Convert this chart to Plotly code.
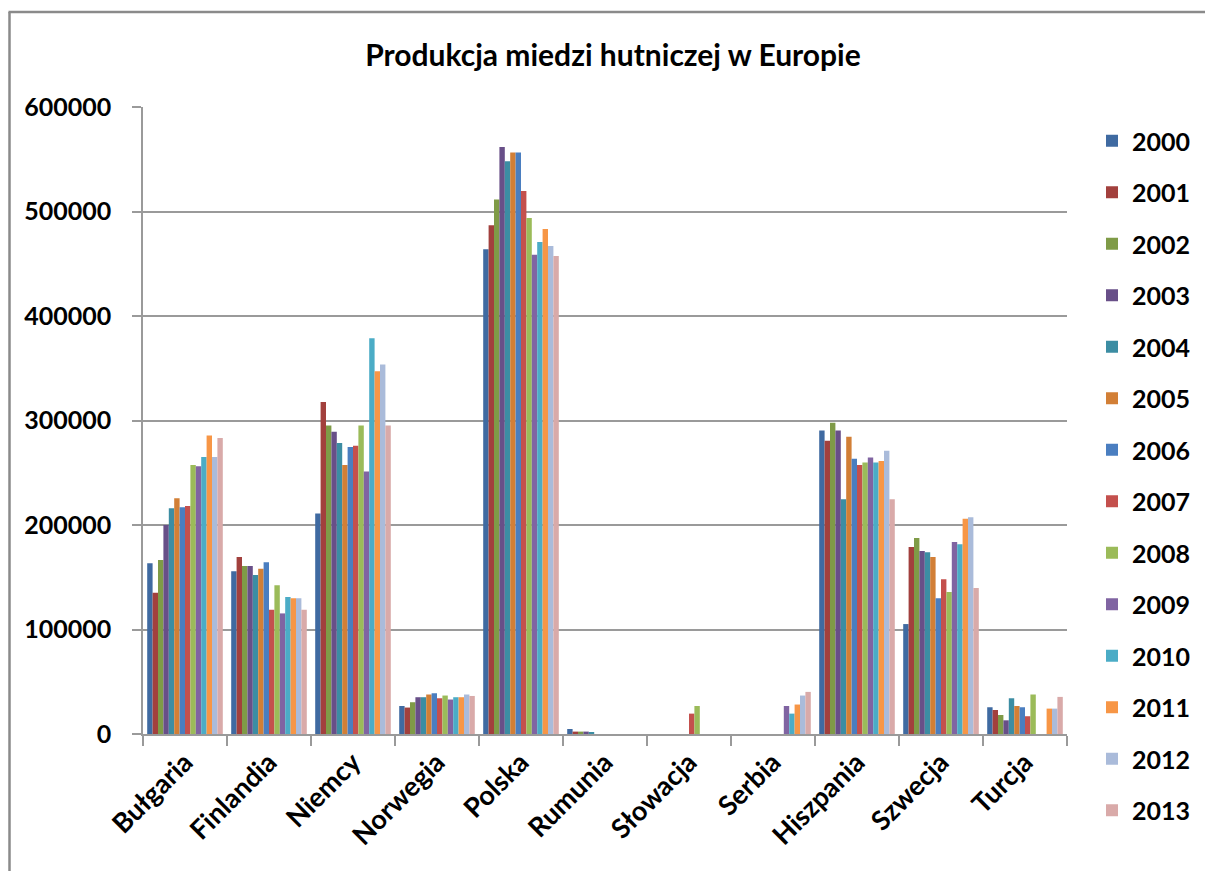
import plotly.graph_objects as go

# Copper smelter production by country, tonnes per year
countries = ["Bułgaria", "Finlandia", "Niemcy", "Norwegia", "Polska", "Rumunia",
             "Słowacja", "Serbia", "Hiszpania", "Szwecja", "Turcja"]

years = ["2000", "2001", "2002", "2003", "2004", "2005", "2006",
         "2007", "2008", "2009", "2010", "2011", "2012", "2013"]

y2000 = [163400, 155700, 210900, 26800, 463800, 4800, None, None, 290500, 105200, 25600]
y2001 = [135200, 169400, 317700, 25300, 486800, 2300, None, None, 280600, 179000, 23000]
y2002 = [166500, 160800, 295300, 30400, 511400, 2300, None, None, 297900, 187600, 18200]
y2003 = [200000, 160800, 289300, 35200, 561800, 2300, None, None, 290500, 175200, 13100]
y2004 = [216100, 152200, 278400, 35200, 548100, 1300, None, None, 224700, 173900, 34200]
y2005 = [225700, 158200, 257300, 37800, 556500, None, None, None, 284500, 169400, 26800]
y2006 = [216900, 164300, 274600, 39000, 556500, None, None, None, 263400, 129800, 25600]
y2007 = [218300, 118900, 275800, 34200, 519700, None, 19500, None, 257300, 148000, 17000]
y2008 = [257300, 142300, 295300, 36800, 493800, None, 26800, None, 259800, 135900, 37800]
y2009 = [256300, 115400, 251200, 33000, 458700, None, None, 26800, 264600, 183800, None]
y2010 = [265000, 131100, 378700, 35200, 470800, None, None, 19500, 259800, 181600, None]
y2011 = [285700, 129800, 347100, 35200, 483200, None, None, 28200, 261200, 206100, 24300]
y2012 = [265000, 129800, 353500, 37800, 466900, None, None, 36800, 271000, 207500, 24300]
y2013 = [283200, 118900, 295300, 36400, 457300, None, None, 40300, 224700, 139700, 35500]

colors = ["#3F6AA1", "#A2403D", "#7F9B47", "#684F88", "#3C8DA3", "#D27F36", "#4A7EC0",
          "#C4504D", "#9BBB59", "#8064A2", "#4BACC6", "#F79646", "#AABBDA", "#D9AAA9"]

series = [y2000, y2001, y2002, y2003, y2004, y2005, y2006,
          y2007, y2008, y2009, y2010, y2011, y2012, y2013]

FONT = "Lato"
GRID = "#9a9a9a"

fig = go.Figure()
for year, vals, col in zip(years, series, colors):
    fig.add_trace(go.Bar(
        name=year, x=countries, y=vals,
        marker=dict(color=col, line=dict(width=0)),
        legendgroup=year,
    ))

# plot area spans x 143..1067 px, y 107..734 px
W, H = 1205, 871
L, R, T, B = 143, W - 1067, 107, H - 734
pw, ph = W - L - R, H - T - B

def px_x(p):
    return (p - L) / pw

def px_y(p):
    return (H - B - p) / ph

fig.update_layout(
    width=W, height=H,
    margin=dict(l=L, r=R, t=T, b=B, autoexpand=False),
    paper_bgcolor="white", plot_bgcolor="white",
    barmode="group", bargap=0.1, bargroupgap=0,
    font=dict(family=FONT, color="black"),
    title=dict(text="<b>Produkcja miedzi hutniczej w Europie</b>",
               x=613 / W, xanchor="center", y=1 - 55 / H, yanchor="middle",
               font=dict(family=FONT, size=30, color="black")),
    legend=dict(x=px_x(1092), xanchor="left",
                yref="container", y=1 - 118 / H, yanchor="top",
                font=dict(family=FONT, size=25, color="black", weight="bold"),
                tracegroupgap=16, maxheight=1, bgcolor="rgba(0,0,0,0)"),
    xaxis=dict(
        showgrid=False, showline=True, linecolor=GRID, linewidth=1.5,
        ticks="outside", ticklen=10, tickcolor=GRID, tickwidth=1.5,
        tickson="boundaries", tickangle=-45,
        tickfont=dict(family=FONT, size=27, color="black", weight="bold"),
    ),
    yaxis=dict(
        range=[0, 600000], dtick=100000, tickformat="d",
        showgrid=True, gridcolor=GRID, gridwidth=1.5,
        showline=True, linecolor=GRID, linewidth=1.5,
        ticks="outside", ticklen=9, tickcolor=GRID, tickwidth=1.5,
        ticklabelstandoff=16, zeroline=False,
        tickfont=dict(family=FONT, size=25, color="black", weight="bold"),
    ),
    shapes=[
        dict(type="line", xref="paper", yref="paper",
             x0=px_x(9.5), x1=px_x(9.5), y0=px_y(12), y1=px_y(880),
             line=dict(color="#8a8a8a", width=2.5)),
        dict(type="line", xref="paper", yref="paper",
             x0=px_x(8.5), x1=px_x(1215), y0=px_y(12), y1=px_y(12),
             line=dict(color="#8a8a8a", width=2.5)),
    ],
)

fig.write_html("out.html")
